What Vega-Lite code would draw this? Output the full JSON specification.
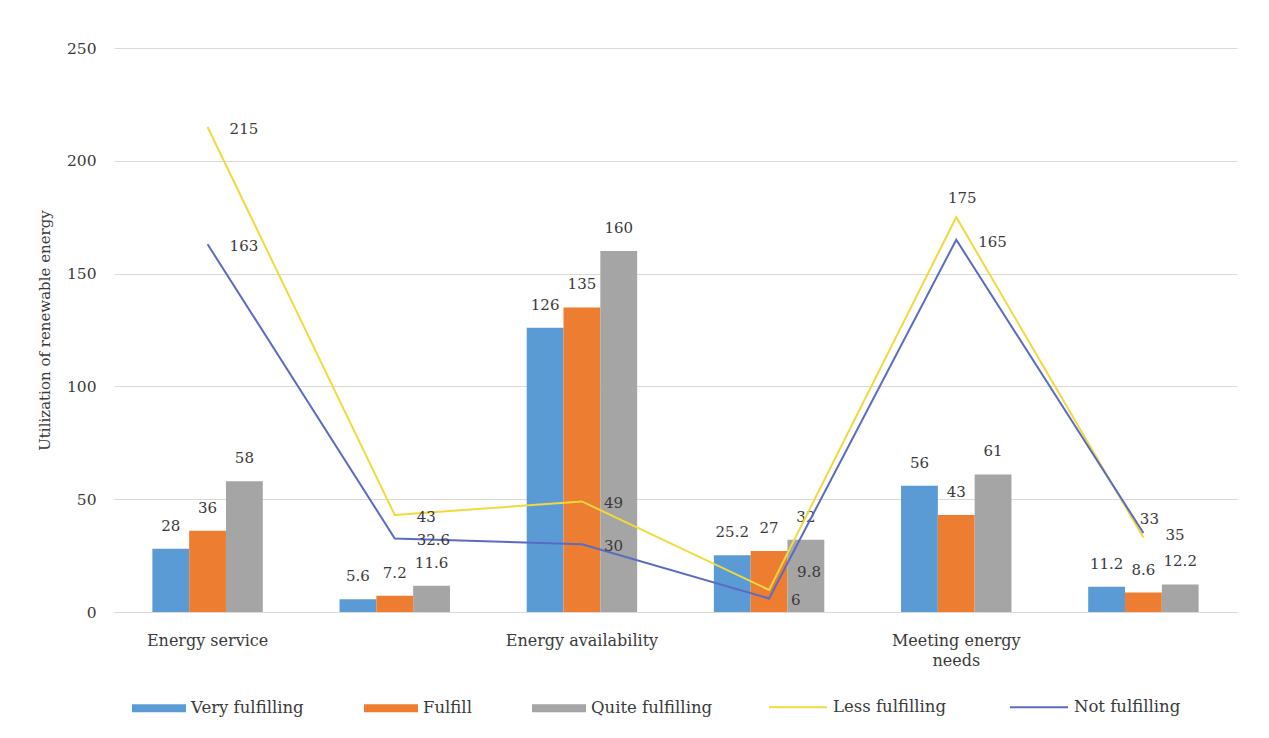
{
  "$schema": "https://vega.github.io/schema/vega-lite/v6.json",
  "autosize": {"type": "none"},
  "width": 1123,
  "height": 564,
  "padding": {"left": 114, "top": 48, "right": 32, "bottom": 126},
  "background": "white",
  "config": {
    "font": "DejaVu Serif",
    "view": {"stroke": null},
    "axis": {"labelFont": "DejaVu Serif", "titleFont": "DejaVu Serif", "labelColor": "#3A3A3A", "titleColor": "#3A3A3A"},
    "legend": {"labelFont": "DejaVu Serif", "labelColor": "#3A3A3A"}
  },
  "data": {
    "values": [
      {"category": "Energy service", "series": "Very fulfilling", "value": 28},
      {"category": "Energy service", "series": "Fulfill", "value": 36},
      {"category": "Energy service", "series": "Quite fulfilling", "value": 58},
      {"category": "Energy service", "series": "Less fulfilling", "value": 215},
      {"category": "Energy service", "series": "Not fulfilling", "value": 163},
      {"category": " ", "series": "Very fulfilling", "value": 5.6},
      {"category": " ", "series": "Fulfill", "value": 7.2},
      {"category": " ", "series": "Quite fulfilling", "value": 11.6},
      {"category": " ", "series": "Less fulfilling", "value": 43},
      {"category": " ", "series": "Not fulfilling", "value": 32.6},
      {"category": "Energy availability", "series": "Very fulfilling", "value": 126},
      {"category": "Energy availability", "series": "Fulfill", "value": 135},
      {"category": "Energy availability", "series": "Quite fulfilling", "value": 160},
      {"category": "Energy availability", "series": "Less fulfilling", "value": 49},
      {"category": "Energy availability", "series": "Not fulfilling", "value": 30},
      {"category": "  ", "series": "Very fulfilling", "value": 25.2},
      {"category": "  ", "series": "Fulfill", "value": 27},
      {"category": "  ", "series": "Quite fulfilling", "value": 32},
      {"category": "  ", "series": "Less fulfilling", "value": 9.8},
      {"category": "  ", "series": "Not fulfilling", "value": 6},
      {"category": "Meeting energy needs", "series": "Very fulfilling", "value": 56},
      {"category": "Meeting energy needs", "series": "Fulfill", "value": 43},
      {"category": "Meeting energy needs", "series": "Quite fulfilling", "value": 61},
      {"category": "Meeting energy needs", "series": "Less fulfilling", "value": 175},
      {"category": "Meeting energy needs", "series": "Not fulfilling", "value": 165},
      {"category": "   ", "series": "Very fulfilling", "value": 11.2},
      {"category": "   ", "series": "Fulfill", "value": 8.6},
      {"category": "   ", "series": "Quite fulfilling", "value": 12.2},
      {"category": "   ", "series": "Less fulfilling", "value": 33},
      {"category": "   ", "series": "Not fulfilling", "value": 35}
    ]
  },
  "encoding": {
    "x": {
      "field": "category",
      "type": "nominal",
      "scale": {
        "domain": ["Energy service", " ", "Energy availability", "  ", "Meeting energy needs", "   "],
        "paddingInner": 0.41,
        "paddingOuter": 0.205
      },
      "axis": {
        "title": null,
        "labelAngle": 0,
        "labelFontSize": 16,
        "labelPadding": 20,
        "labelLineHeight": 20,
        "labelExpr": "datum.label == 'Meeting energy needs' ? ['Meeting energy', 'needs'] : datum.label",
        "ticks": false,
        "tickSize": 0,
        "domain": false,
        "grid": false
      }
    },
    "y": {
      "field": "value",
      "type": "quantitative",
      "scale": {"domain": [0, 250], "nice": false},
      "axis": {
        "title": "Utilization of renewable energy",
        "titleFontSize": 15,
        "titleFontWeight": "normal",
        "titlePadding": 14,
        "values": [0, 50, 100, 150, 200, 250],
        "labelFontSize": 15.5,
        "labelPadding": 18,
        "ticks": false,
        "tickSize": 0,
        "domain": false,
        "grid": true,
        "gridColor": "#D9D9D9",
        "gridWidth": 1
      }
    }
  },
  "layer": [
    {
      "transform": [{"filter": {"field": "series", "oneOf": ["Very fulfilling", "Fulfill", "Quite fulfilling"]}}],
      "mark": {"type": "bar"},
      "encoding": {
        "xOffset": {
          "field": "series",
          "type": "nominal",
          "scale": {"domain": ["Very fulfilling", "Fulfill", "Quite fulfilling"], "paddingInner": 0, "paddingOuter": 0}
        },
        "color": {
          "field": "series",
          "type": "nominal",
          "scale": {"domain": ["Very fulfilling", "Fulfill", "Quite fulfilling"], "range": ["#5B9BD5", "#ED7D31", "#A5A5A5"]},
          "legend": {
            "title": null,
            "orient": "none",
            "direction": "horizontal",
            "legendX": 18,
            "legendY": 633,
            "symbolType": "M-1,-0.15H1V0.15H-1Z",
            "symbolSize": 2916,
            "symbolStrokeWidth": 0,
            "labelFontSize": 16.5,
            "labelOffset": 5,
            "columnPadding": 60
          }
        }
      }
    },
    {
      "transform": [{"filter": {"field": "series", "oneOf": ["Very fulfilling", "Fulfill", "Quite fulfilling"]}}],
      "mark": {"type": "text", "baseline": "middle", "dy": -23, "fontSize": 15, "color": "#3A3A3A"},
      "encoding": {
        "xOffset": {
          "field": "series",
          "type": "nominal",
          "scale": {"domain": ["Very fulfilling", "Fulfill", "Quite fulfilling"], "paddingInner": 0, "paddingOuter": 0}
        },
        "text": {"field": "value", "type": "quantitative"}
      }
    },
    {
      "transform": [{"filter": {"field": "series", "oneOf": ["Less fulfilling", "Not fulfilling"]}}],
      "mark": {"type": "line", "strokeWidth": 2},
      "encoding": {
        "stroke": {
          "field": "series",
          "type": "nominal",
          "scale": {"domain": ["Less fulfilling", "Not fulfilling"], "range": ["#F0DA3C", "#5A6BC4"]},
          "legend": {
            "title": null,
            "orient": "none",
            "direction": "horizontal",
            "legendX": 654,
            "legendY": 629,
            "symbolType": "stroke",
            "symbolSize": 3364,
            "symbolStrokeWidth": 2,
            "labelFontSize": 16.5,
            "labelOffset": 5,
            "columnPadding": 60
          }
        }
      }
    },
    {
      "transform": [
        {"filter": "datum.series == 'Not fulfilling' || (datum.series == 'Less fulfilling' && indexof(['Energy service', ' ', 'Energy availability'], datum.category) >= 0)"}
      ],
      "mark": {"type": "text", "align": "left", "baseline": "middle", "dx": 22, "dy": 2, "fontSize": 15, "color": "#3A3A3A"},
      "encoding": {"text": {"field": "value", "type": "quantitative"}}
    },
    {
      "transform": [
        {"filter": "datum.series == 'Less fulfilling' && indexof(['Meeting energy needs', '   '], datum.category) >= 0"}
      ],
      "mark": {"type": "text", "align": "center", "baseline": "middle", "dx": 6, "dy": -19, "fontSize": 15, "color": "#3A3A3A"},
      "encoding": {"text": {"field": "value", "type": "quantitative"}}
    },
    {
      "transform": [
        {"filter": "datum.series == 'Less fulfilling' && datum.category == '  '"}
      ],
      "mark": {"type": "text", "align": "left", "baseline": "middle", "dx": 28, "dy": -18, "fontSize": 15, "color": "#3A3A3A"},
      "encoding": {"text": {"field": "value", "type": "quantitative"}}
    }
  ]
}
